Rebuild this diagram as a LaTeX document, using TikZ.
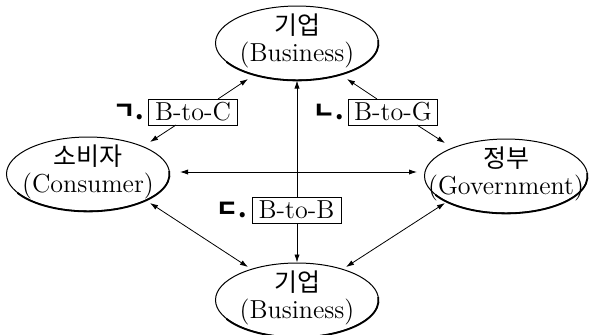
\documentclass[tikz,border=0pt]{standalone}
\usepackage{fontspec}
\newfontfamily\kr{Noto Sans CJK KR}
\usetikzlibrary{shapes.geometric,arrows.meta}
\begin{document}
\begin{tikzpicture}[x=0.5pt,y=-0.5pt,
  ent/.style={ellipse, draw, line width=0.5pt, minimum width=81.5pt, minimum height=37pt, inner sep=0pt},
  txt/.style={inner sep=0pt, align=center, font=\fontsize{13}{13.5}\selectfont},
  lab/.style={draw, fill=white, line width=0.5pt, inner sep=1pt, minimum width=44.5pt, minimum height=13pt, font=\fontsize{13}{13}\selectfont},
  num/.style={inner sep=0pt, font=\kr\bfseries\fontsize{12}{12}\selectfont},
  con/.style={line width=0.4pt, -{Latex[length=4pt,width=2.6pt]}},
  bi/.style={line width=0.4pt, {Latex[length=4pt,width=2.6pt]}-{Latex[length=4pt,width=2.6pt]}},
  shade/.style={line width=0.9pt}]
\useasboundingbox (0,0) rectangle (589,334);
\newcommand{\kor}[1]{{\kr\fontsize{12.5}{13}\selectfont #1}}
% entities
\node[ent] (top)  at (297,43)  {};
\node[ent] (cons) at (88,174)  {};
\node[ent] (gov)  at (506,176) {};
\node[ent] (bot)  at (297,300) {};
\node[txt] (topt)  at ([yshift=1pt]top.center)  {\kor{기업}\\(Business)};
\node[txt] (const) at ([yshift=1pt]cons.center) {\kor{소비자}\\(Consumer)};
\node[txt] (govt)  at ([yshift=1pt]gov.center)  {\kor{정부}\\(Government)};
\node[txt] (bott)  at ([yshift=1pt]bot.center)  {\kor{기업}\\(Business)};
% shadow arcs
\foreach \n in {top,cons,gov,bot}{
  \draw[shade] (\n.center) ++(0,0.4) ++(210:40.75pt and 18.5pt) arc[start angle=210, end angle=365, x radius=40.75pt, y radius=18.5pt];
}
% vertical and horizontal
\draw[bi] (top.south) -- (bot.north);
\draw[bi] ([shift={(92,-2)}]cons.center) -- ([shift={(-89,-4)}]gov.center);
% labels
\node[lab] (btc) at (193,112) {B-to-C};
\node[lab] (btg) at (393,112) {B-to-G};
\node[lab] (btb) at (296.5,210) {B-to-B};
\node[num, anchor=east] (lc) at ([xshift=-2pt]btc.west) {ㄱ.};
\node[num, anchor=east] (lg) at ([xshift=-2pt]btg.west) {ㄴ.};
\node[num, anchor=east] (lb) at ([xshift=-2pt]btb.west) {ㄷ.};
% B-to-C
\draw[con] ([shift={(25,-13)}]btc.center) -- ([shift={(-49,36)}]top.center);
\draw[con] ([shift={(-17,13)}]btc.center) -- ([shift={(62,-32)}]cons.center);
% B-to-G
\draw[con] ([shift={(-16,-13)}]btg.center) -- ([shift={(50,36)}]top.center);
\draw[con] ([shift={(24,13)}]btg.center) -- ([shift={(-61,-33)}]gov.center);
% diagonals
\draw[bi] ([shift={(62,29)}]cons.center) -- ([shift={(-49,-33)}]bot.center);
\draw[bi] ([shift={(-61,27)}]gov.center) -- ([shift={(49,-33)}]bot.center);
\end{tikzpicture}
\end{document}
